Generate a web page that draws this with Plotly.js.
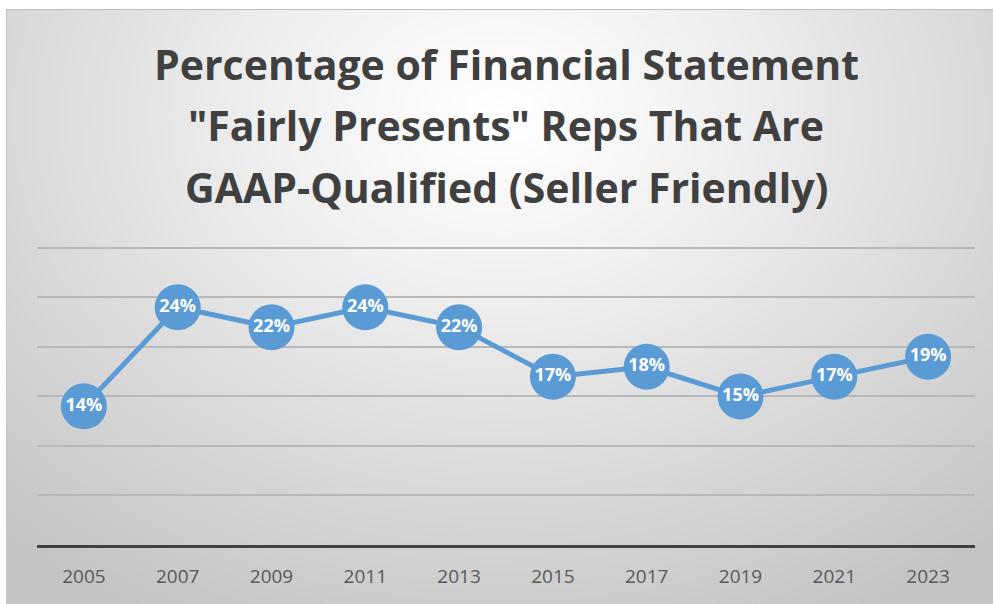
<!DOCTYPE html>
<html><head><meta charset="utf-8">
<script src="https://cdn.plot.ly/plotly-3.0.1.min.js"></script>
<style>
html,body{margin:0;padding:0;background:#fff;width:993px;height:604px;overflow:hidden;}
#bg{position:absolute;left:6px;top:9px;right:0;bottom:0;
 background:radial-gradient(ellipse 75% 95% at 50% 18%, #ffffff 0%, #f0f0f0 30%, #d9d9d9 65%, #c4c4c4 100%);
 border-top:1px solid #bdbdbd;border-left:1px solid #c8c8c8;}
#chart{position:absolute;left:0;top:0;width:993px;height:604px;}
</style></head>
<body>
<div id="bg"></div>
<div id="chart"></div>
<script>
const years = ['2005','2007','2009','2011','2013','2015','2017','2019','2021','2023'];
const pct = [14, 24, 22, 24, 22, 17, 18, 15, 17, 19];
const labels = pct.map(v => v + '%');
const titleLines = ['Percentage of Financial Statement', '"Fairly Presents" Reps That Are', 'GAAP-Qualified (Seller Friendly)'];

const FONT = '"Open Sans", Lato, sans-serif';
const trace = {
  x: years, y: pct, type: 'scatter', mode: 'lines+markers+text',
  text: labels, textposition: 'middle center',
  textfont: {family: FONT, size: 18, color: '#ffffff', weight: 'bold'},
  line: {color: '#5B9BD5', width: 5},
  marker: {color: '#5B9BD5', size: 46},
  cliponaxis: false, hoverinfo: 'skip'
};
// title lines: vertical centres in pixels converted to paper units (plot: y 242..545)
const lineCentersPx = [64, 125, 187];
const annotations = titleLines.map((t, i) => ({
  text: '<b>' + t + '</b>', xref: 'paper', yref: 'paper', x: 0.5, xanchor: 'center',
  y: (545 - lineCentersPx[i]) / 303, yanchor: 'middle', showarrow: false,
  font: {family: FONT, size: 41, color: '#404040'}
}));
const layout = {
  width: 993, height: 604,
  paper_bgcolor: 'rgba(0,0,0,0)', plot_bgcolor: 'rgba(0,0,0,0)',
  margin: {l: 37, r: 18, t: 242, b: 59},
  showlegend: false,
  annotations: annotations,
  xaxis: {type: 'category', range: [-0.5, 9.5], showgrid: false, zeroline: false,
    showline: true, linecolor: '#404040', linewidth: 3, ticks: '',
    tickfont: {family: FONT, size: 19, color: '#595959'}, ticklabelstandoff: 12, fixedrange: true},
  yaxis: {range: [0, 30.6], tickvals: [5, 10, 15, 20, 25, 30], showgrid: true, gridcolor: '#b8b8b8', gridwidth: 2,
    zeroline: false, showticklabels: false, ticks: '', fixedrange: true}
};
Plotly.newPlot('chart', [trace], layout, {displayModeBar: false, staticPlot: true});
</script>
</body></html>
